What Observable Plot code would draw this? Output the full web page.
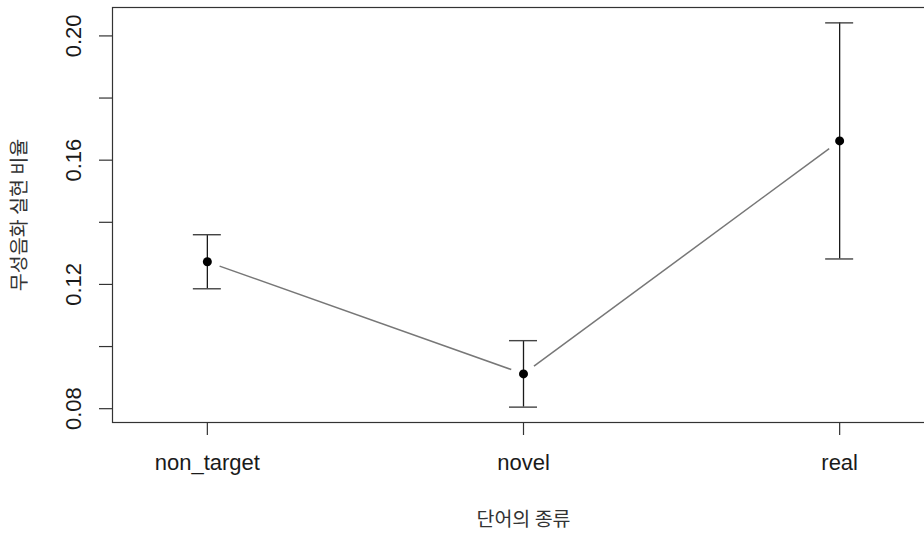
<!DOCTYPE html>
<html>
<head>
<meta charset="utf-8">
<script src="https://cdn.jsdelivr.net/npm/d3@7"></script>
<script src="https://cdn.jsdelivr.net/npm/@observablehq/plot@0.6"></script>
<style>
  html, body { margin: 0; padding: 0; background: #fff; overflow: hidden; }
  #chart svg { display: block; max-width: none; }
</style>
</head>
<body>
<div id="chart"></div>
<script>
// Word type categories and the mean devoicing rate with its error half-width
const categories = ["non_target", "novel", "real"];
const means = [0.1273, 0.0912, 0.1662];
const errors = [0.0087, 0.0107, 0.0380];

// Y axis ticks: every 0.02, only every other one labelled
const yTicks = [0.08, 0.10, 0.12, 0.14, 0.16, 0.18, 0.20];
const yLabels = [0.08, 0.12, 0.16, 0.20];

const xTitle = "단어의 종류";
const yTitle = "무성음화 실현 비율";

const rows = categories.map((c, i) => ({
  pos: i + 1,
  category: c,
  mean: means[i],
  lo: means[i] - errors[i],
  hi: means[i] + errors[i]
}));

// consecutive pairs of points for the connecting segments
const segments = d3.pairs(rows).map(([a, b]) => ({x1: a.pos, y1: a.mean, x2: b.pos, y2: b.mean}));

// y range padded by 4% on each side
const yMin = d3.min(rows, d => d.lo), yMax = d3.max(rows, d => d.hi);
const pad = (yMax - yMin) * 0.04;

const ink = "#1a1a1a";
const hangul = "'Noto Sans CJK KR', sans-serif";

const chart = Plot.plot({
  width: 934,
  height: 533,
  marginLeft: 112,
  marginRight: 0,
  marginTop: 7,
  marginBottom: 111,
  style: {fontFamily: "'Liberation Sans', Arial, sans-serif", fontSize: "22px", color: ink, background: "#fff"},
  x: {domain: [0.7, 3.3], axis: null},
  y: {domain: [yMin - pad, yMax + pad], axis: null},
  marks: [
    Plot.frame({stroke: "#333", strokeWidth: 1.2}),
    // y axis ticks and rotated labels
    Plot.axisY({ticks: yTicks, tickSize: 13, tickFormat: () => "", stroke: "#333", strokeWidth: 1.2, label: null}),
    Plot.text(yLabels, {
      y: d => d, text: d => d.toFixed(2), frameAnchor: "left", dx: -32,
      rotate: -90, textAnchor: "middle", lineAnchor: "bottom", fontSize: 22, fill: ink
    }),
    // x axis ticks and category labels
    Plot.axisX({ticks: rows.map(d => d.pos), tickSize: 13, tickFormat: () => "", stroke: "#333", strokeWidth: 1.2, label: null}),
    Plot.text(rows, {
      x: "pos", text: "category", frameAnchor: "bottom", dy: 47,
      lineAnchor: "bottom", textAnchor: "middle", fontSize: 22, fill: ink
    }),
    // axis titles
    Plot.text([xTitle], {
      text: d => d, frameAnchor: "bottom", dy: 97, lineAnchor: "middle", textAnchor: "middle",
      fontFamily: hangul, fontSize: 19.5, fill: "#333"
    }),
    Plot.text([yTitle], {
      text: d => d, frameAnchor: "left", dx: -93, rotate: -90, lineAnchor: "middle", textAnchor: "middle",
      fontFamily: hangul, fontSize: 19.5, fill: "#333"
    }),
    // connecting segments, stopping short of each point
    Plot.arrow(segments, {
      x1: "x1", y1: "y1", x2: "x2", y2: "y2",
      headLength: 0, inset: 13, stroke: "#777", strokeWidth: 1.5, strokeLinecap: "butt"
    }),
    // error bars with caps
    Plot.ruleX(rows, {x: "pos", y1: "lo", y2: "hi", stroke: ink, strokeWidth: 1.3}),
    Plot.ruleY(rows, {y: "hi", x1: "pos", x2: "pos", insetLeft: -14, insetRight: -14, stroke: "#444", strokeWidth: 1.4}),
    Plot.ruleY(rows, {y: "lo", x1: "pos", x2: "pos", insetLeft: -14, insetRight: -14, stroke: "#444", strokeWidth: 1.4}),
    // mean points
    Plot.dot(rows, {x: "pos", y: "mean", r: 4.5, fill: "#000", stroke: "none"})
  ]
});

document.getElementById("chart").appendChild(chart);
</script>
</body>
</html>
